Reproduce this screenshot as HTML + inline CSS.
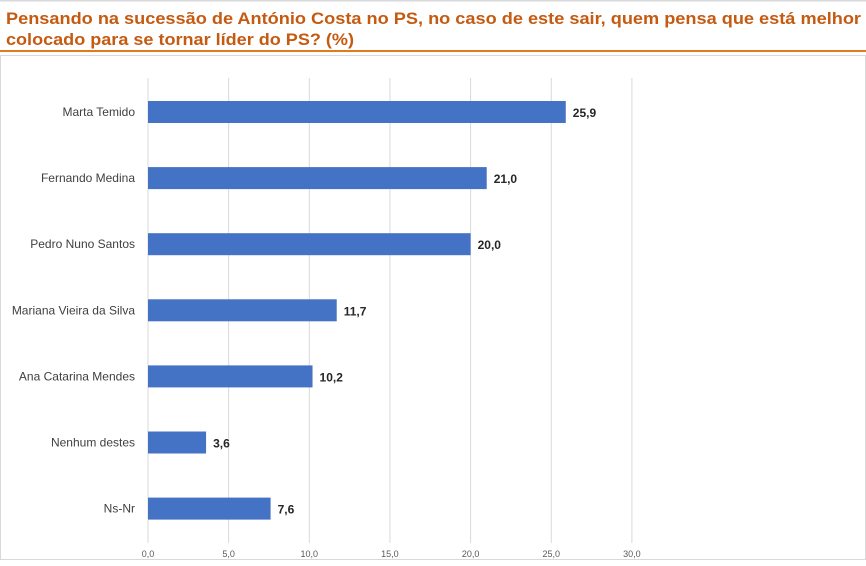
<!DOCTYPE html>
<html><head><meta charset="utf-8"><style>
body{margin:0;background:#fff;width:866px;height:561px;overflow:hidden;font-family:"Liberation Sans",sans-serif}
</style></head><body>
<svg id="chart" width="866" height="561" xmlns="http://www.w3.org/2000/svg">
<rect x="0" y="0" width="866" height="1.5" fill="#d9d9d9"/>
<text x="6" y="24" font-size="17" font-weight="bold" fill="#C55A11" textLength="855" lengthAdjust="spacingAndGlyphs">Pensando na sucessão de António Costa no PS, no caso de este sair, quem pensa que está melhor</text>
<text x="6" y="45" font-size="17" font-weight="bold" fill="#C55A11" textLength="348" lengthAdjust="spacingAndGlyphs">colocado para se tornar líder do PS? (%)</text>
<rect x="0" y="50" width="866" height="2" fill="#E07B20"/>
<rect x="0.5" y="55.5" width="865" height="504" fill="none" stroke="#d9d9d9"/>
<g id="grid"></g><g id="bars"></g>
</svg>
<script>
const categories=["Marta Temido","Fernando Medina","Pedro Nuno Santos","Mariana Vieira da Silva","Ana Catarina Mendes","Nenhum destes","Ns-Nr"];
const values=[25.9,21.0,20.0,11.7,10.2,3.6,7.6];
const ticks=[0,5,10,15,20,25,30];
const NS="http://www.w3.org/2000/svg";
const x0=148,pxPer=16.13,yTop=78,yBot=543,y0=112,step=66.1,bh=22;
const xs=v=>x0+v*pxPer;
const grid=document.getElementById('grid'),bars=document.getElementById('bars');
function mk(tag,attrs,parent){const e=document.createElementNS(NS,tag);for(const k in attrs)e.setAttribute(k,attrs[k]);parent.appendChild(e);return e;}
ticks.forEach(t=>{
  const l=mk('line',{x1:xs(t),x2:xs(t),y1:yTop,y2:yBot,stroke:'#d9d9d9','stroke-width':1},grid);
  
  
  const tx=mk('text',{x:xs(t),y:557,'font-size':9,fill:'#595959','text-anchor':'middle'},grid);
  tx.textContent=t.toFixed(1).replace('.',',');
  
  
});
categories.forEach((c,i)=>{
  const yc=y0+i*step;
  const r=mk('rect',{x:x0,y:yc-bh/2,width:xs(values[i])-x0,height:bh,fill:'#4472C4'},bars);
  
  
  const lb=mk('text',{x:135,y:yc+4,'font-size':12,fill:'#404040','text-anchor':'end'},bars);
  lb.textContent=c;
  
  
  const vl=mk('text',{x:xs(values[i])+7,y:yc+5,'font-size':12,'font-weight':'bold',fill:'#262626'},bars);
  vl.textContent=values[i].toFixed(1).replace('.',',');
  
  
});
</script>
</body></html>
